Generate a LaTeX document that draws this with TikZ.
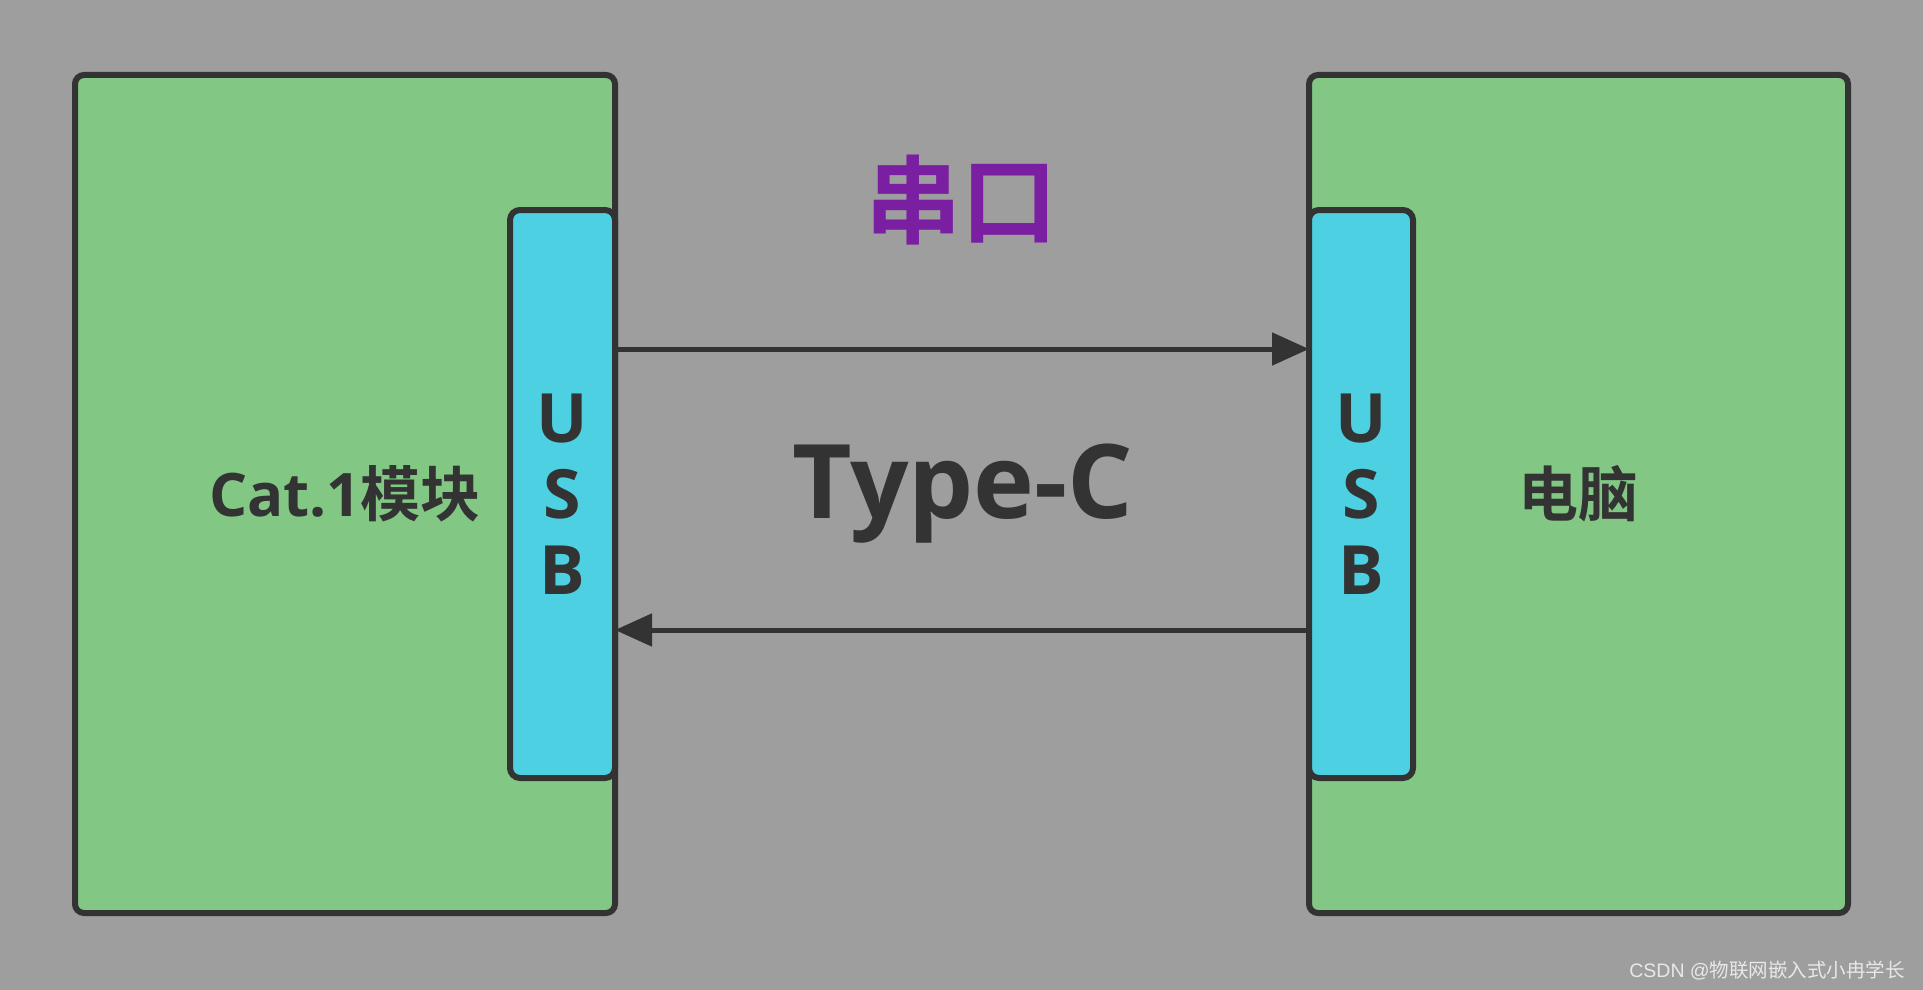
\documentclass[tikz,border=0pt]{standalone}
\usepackage{fontspec}
\usepackage{xcolor}
\usepackage{tikz}
\usetikzlibrary{arrows.meta,positioning}
\setmainfont{Open Sans}
\newfontfamily\cjk{Noto Sans CJK SC}[BoldFont={Noto Sans CJK SC Bold}]
\newfontfamily\wmfont{Liberation Sans}
\definecolor{bgGray}{RGB}{158,158,158}
\definecolor{boxGreen}{RGB}{130,200,132}
\definecolor{usbCyan}{RGB}{77,208,225}
\definecolor{inkDark}{RGB}{51,51,51}
\definecolor{serPurple}{RGB}{123,31,162}
\definecolor{wmGray}{RGB}{232,232,232}

\begin{document}
\begin{tikzpicture}[x=1pt,y=-1pt,
  box/.style={draw=inkDark,line width=6pt,fill=boxGreen,rounded corners=9pt,
              outer sep=0pt,inner sep=0pt,text=inkDark},
  usb/.style={draw=inkDark,line width=6pt,fill=usbCyan,rounded corners=10pt,
              outer sep=0pt,inner sep=0pt,minimum width=105pt,minimum height=568pt,
              text=inkDark,align=center,font=\fontsize{68}{76}\selectfont\bfseries},
  arr/.style={draw=inkDark,line width=5pt,-{Triangle[length=37pt,width=32pt]}},
  lbl/.style={inner sep=0pt,text=inkDark}]
  \fill[bgGray] (0,0) rectangle (1923,990);
  \useasboundingbox (0,0) rectangle (1923,990);
  % modules
  \node[box,minimum width=540pt,minimum height=838pt,
        font=\fontsize{60}{72}\selectfont\bfseries] (cat) at (345,494) {Cat.1{\cjk 模块}};
  \node[box,minimum width=539pt,minimum height=838pt,
        font=\fontsize{60}{72}\selectfont\bfseries\cjk] (pc) at (1578.5,494) {电脑};
  \node[usb] (usbL) at (562.5,494) {U\\S\\B};
  \node[usb,minimum width=104pt] (usbR) at (1361,494) {U\\S\\B};
  % links
  \draw[arr] ([yshift=145pt]usbL.east) -- ([yshift=145pt]usbR.west);
  \draw[arr] ([yshift=-136pt]usbR.west) -- ([yshift=-136pt]usbL.east);
  \node[lbl,text=serPurple,font=\fontsize{96}{110}\selectfont\bfseries\cjk] (ser) at (961,200) {串口};
  \node[lbl,font=\fontsize{103}{120}\selectfont\bfseries,anchor=base] (typec) at (963,518) {Type-C};
  \node[lbl,text=wmGray,font=\fontsize{19.5}{22}\selectfont\wmfont,anchor=base east] (wm) at (1905,977) {CSDN @{\cjk 物联网嵌入式小冉学长}};
\end{tikzpicture}
\end{document}
